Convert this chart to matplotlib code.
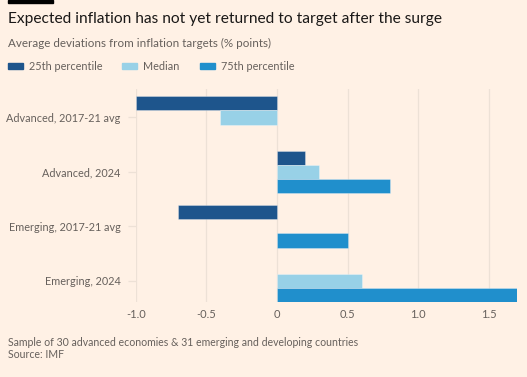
import matplotlib.pyplot as plt
import numpy as np

plt.rcParams.update({
    "font.family": ["Lato", "DejaVu Sans"],
    "figure.dpi": 100, "savefig.dpi": 100,
})

BG = "#FFF1E5"
GRID = "#EDE1D6"
TXT = "#66605C"

categories = ["Advanced, 2017-21 avg", "Advanced, 2024", "Emerging, 2017-21 avg", "Emerging, 2024"]
series = ["25th percentile", "Median", "75th percentile"]
p25 = [-1.0, 0.2, -0.7, np.nan]
median = [-0.4, 0.3, np.nan, 0.6]
p75 = [np.nan, 0.8, 0.5, 1.7]
colors = ["#1E558C", "#98D1E7", "#208FCC"]
xticks = [-1.0, -0.5, 0, 0.5, 1.0, 1.5]
xticklabels = ["-1.0", "-0.5", "0", "0.5", "1.0", "1.5"]

fig = plt.figure(figsize=(5.27, 3.77), facecolor=BG)
ax = fig.add_axes([0.2575, 0.199, 0.7235, 0.566], facecolor=BG)

h = 0.26
y = np.arange(len(categories))
for i, (vals, col) in enumerate(zip([p25, median, p75], colors)):
    v = np.array(vals, dtype=float)
    m = ~np.isnan(v)
    ax.barh(y[m] + (i - 1) * h, v[m], height=h, color=col,
            edgecolor=(1, 1, 1, 0.35), linewidth=0.6, zorder=3)

ax.set_xlim(-1.0, 1.7)
ax.set_ylim(3 + 1.5 * h, -1.5 * h - 0.14)
ax.set_xticks(xticks)
ax.set_xticklabels(xticklabels)
ax.set_yticks(y)
ax.set_yticklabels(categories)
ax.grid(axis="x", color=GRID, lw=0.9, zorder=0)
for s in ax.spines.values():
    s.set_visible(False)
ax.tick_params(axis="x", length=0, labelsize=8.0, labelcolor=TXT, pad=5)
ax.tick_params(axis="y", length=6, color=GRID, width=0.9, labelsize=7.8, labelcolor=TXT, pad=5)

# header
fig.patches.append(plt.Rectangle((8 / 527, 1 - 3 / 377), 45 / 527, 3 / 377,
                                 transform=fig.transFigure, color="black", figure=fig))
fig.text(8 / 527, 1 - 19 / 377, "Expected inflation has not yet returned to target after the surge",
         fontsize=11.2, color="#1A1817", va="center", ha="left")
fig.text(8 / 527, 1 - 43 / 377, "Average deviations from inflation targets (% points)",
         fontsize=8.4, color=TXT, va="center", ha="left")

# legend
lx = [8, 122, 200]
for x0, lab, col in zip(lx, series, colors):
    fig.patches.append(plt.Rectangle((x0 / 527, 1 - 69 / 377), 15 / 527, 6 / 377,
                                     transform=fig.transFigure, color=col, figure=fig))
    fig.text((x0 + 21) / 527, 1 - 66 / 377, lab, fontsize=7.8, color=TXT, va="center", ha="left")

# footer
fig.text(8 / 527, 1 - 342 / 377, "Sample of 30 advanced economies & 31 emerging and developing countries",
         fontsize=7.6, color=TXT, va="center", ha="left")
fig.text(8 / 527, 1 - 355 / 377, "Source: IMF", fontsize=7.6, color=TXT, va="center", ha="left")

fig.savefig("out.png", facecolor=BG)
